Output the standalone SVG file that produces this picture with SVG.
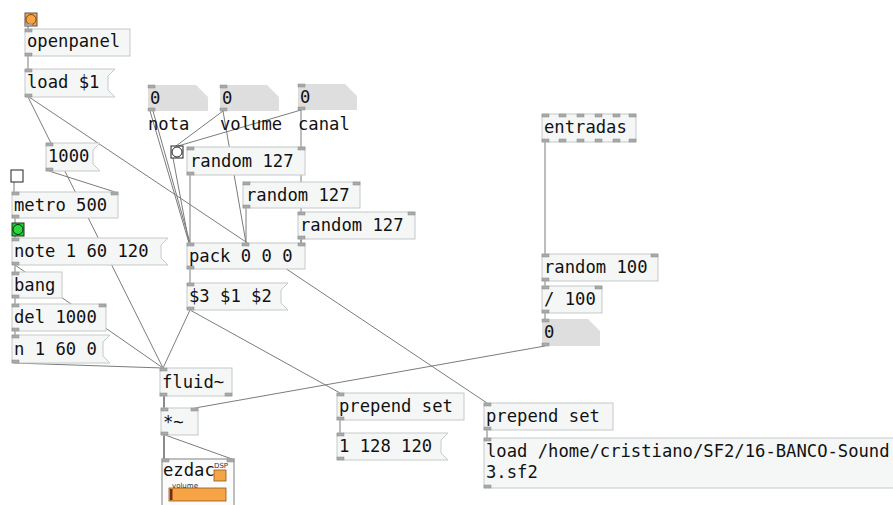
<svg xmlns="http://www.w3.org/2000/svg" width="893" height="505" viewBox="0 0 893 505">
<style>
text{font-family:"DejaVu Sans Mono","Liberation Mono",monospace;font-size:17.2px;fill:#111}
.obj{fill:#f5f7f7;stroke:#c6c9c9;stroke-width:1}
.msg{fill:#f5f7f7;stroke:#c6c9c9;stroke-width:1}
.num{fill:#dedede;stroke:none}
.io{fill:#a9abab;stroke:#8a8c8c;stroke-width:0.5}
.c{stroke:#7c7c7c;stroke-width:1;fill:none}
.s{stroke:#8a8a8a;stroke-width:2;fill:none}
.or{fill:#f6a445;stroke:#7a4a10;stroke-width:1}
.tiny{font-family:"DejaVu Sans","Liberation Sans",sans-serif;font-size:7px;fill:#333}
</style>
<rect width="893" height="505" fill="#ffffff"/>
<g id="connectors">
<line class="c" x1="28" y1="26" x2="28" y2="29"/>
<line class="c" x1="28" y1="56" x2="28" y2="69"/>
<line class="c" x1="28" y1="97" x2="163" y2="368"/>
<line class="c" x1="29" y1="97" x2="487" y2="403"/>
<line class="c" x1="150" y1="111" x2="189" y2="243"/>
<line class="c" x1="153" y1="111" x2="190" y2="243"/>
<line class="c" x1="223" y1="111" x2="176" y2="146"/>
<line class="c" x1="301" y1="110" x2="178" y2="146"/>
<line class="c" x1="223" y1="111" x2="246" y2="243"/>
<line class="c" x1="301" y1="110" x2="301" y2="243"/>
<line class="c" x1="173" y1="158" x2="189" y2="243"/>
<line class="c" x1="190" y1="175" x2="190" y2="243"/>
<line class="c" x1="246" y1="208" x2="246" y2="243"/>
<line class="c" x1="301" y1="239" x2="301" y2="243"/>
<line class="c" x1="190" y1="269" x2="190" y2="283"/>
<line class="c" x1="190" y1="310" x2="163" y2="368"/>
<line class="c" x1="190" y1="310" x2="340" y2="393"/>
<line class="c" x1="49" y1="171" x2="115" y2="192"/>
<line class="c" x1="14" y1="182" x2="14" y2="192"/>
<line class="c" x1="15" y1="218" x2="15" y2="223"/>
<line class="c" x1="15" y1="236" x2="15" y2="238"/>
<line class="c" x1="15" y1="265" x2="15" y2="272"/>
<line class="c" x1="15" y1="265" x2="163" y2="368"/>
<line class="c" x1="15" y1="298" x2="15" y2="304"/>
<line class="c" x1="15" y1="331" x2="15" y2="335"/>
<line class="c" x1="14" y1="363" x2="163" y2="368"/>
<line class="s" x1="164" y1="396" x2="164" y2="408"/>
<line class="c" x1="545" y1="346" x2="195" y2="408"/>
<line class="s" x1="164" y1="435" x2="164" y2="459"/>
<line class="c" x1="165" y1="435" x2="232" y2="459"/>
<line class="c" x1="340" y1="420" x2="340" y2="433"/>
<line class="c" x1="487" y1="430" x2="487" y2="438"/>
<line class="c" x1="545" y1="142" x2="545" y2="254"/>
<line class="c" x1="545" y1="281" x2="545" y2="286"/>
<line class="c" x1="545" y1="313" x2="545" y2="319"/>
</g>
<g id="bang-open">
<rect x="25" y="13" width="12" height="13" fill="#f6a445" stroke="#555" stroke-width="1"/>
<circle cx="31" cy="19.5" r="5" class="or"/>
<rect class="io" x="25" y="24" width="7" height="2"/>
</g>
<g id="openpanel">
<rect class="obj" x="25" y="29" width="105" height="27"/>
<rect class="io" x="25" y="29" width="7" height="3"/><rect class="io" x="25" y="53" width="7" height="3"/>
<text x="27" y="47">openpanel</text>
</g>
<g id="load1">
<polygon class="msg" points="25,69 115,69 108,76 108,90 115,97 25,97"/>
<rect class="io" x="25" y="69" width="7" height="3"/><rect class="io" x="25" y="94" width="7" height="3"/>
<text x="27" y="88">load $1</text>
</g>
<g id="num-nota">
<polygon class="num" points="148,85 196,85 208,97 208,111 148,111"/>
<rect class="io" x="148" y="85" width="7" height="3"/><rect class="io" x="148" y="108" width="7" height="3"/>
<text x="150" y="104">0</text>
<text x="148" y="130">nota</text>
</g>
<g id="num-volume">
<polygon class="num" points="220,85 267,85 279,97 279,111 220,111"/>
<rect class="io" x="220" y="85" width="7" height="3"/><rect class="io" x="220" y="108" width="7" height="3"/>
<text x="222" y="104">0</text>
<text x="220" y="130">volume</text>
</g>
<g id="num-canal">
<polygon class="num" points="298,84 345,84 357,96 357,110 298,110"/>
<rect class="io" x="298" y="84" width="7" height="3"/><rect class="io" x="298" y="107" width="7" height="3"/>
<text x="300" y="103">0</text>
<text x="298" y="130">canal</text>
</g>
<g id="bang-white">
<rect x="171" y="146" width="12" height="12" fill="#fff" stroke="#222" stroke-width="1"/>
<circle cx="177" cy="152" r="5" fill="#fff" stroke="#222" stroke-width="1"/>
</g>
<g id="random1">
<rect class="obj" x="187" y="147" width="118" height="28"/>
<rect class="io" x="187" y="147" width="7" height="3"/><rect class="io" x="298" y="147" width="7" height="3"/><rect class="io" x="187" y="172" width="7" height="3"/>
<text x="190" y="167">random 127</text>
</g>
<g id="random2">
<rect class="obj" x="243" y="182" width="117" height="26"/>
<rect class="io" x="243" y="182" width="7" height="3"/><rect class="io" x="353" y="182" width="7" height="3"/><rect class="io" x="243" y="205" width="7" height="3"/>
<text x="246" y="201">random 127</text>
</g>
<g id="random3">
<rect class="obj" x="298" y="212" width="117" height="27"/>
<rect class="io" x="298" y="212" width="7" height="3"/><rect class="io" x="408" y="212" width="7" height="3"/><rect class="io" x="298" y="236" width="7" height="3"/>
<text x="300" y="231">random 127</text>
</g>
<g id="pack">
<rect class="obj" x="187" y="243" width="118" height="26"/>
<rect class="io" x="187" y="243" width="7" height="3"/><rect class="io" x="242" y="243" width="7" height="3"/><rect class="io" x="298" y="243" width="7" height="3"/><rect class="io" x="187" y="266" width="7" height="3"/>
<text x="189" y="262">pack 0 0 0</text>
</g>
<g id="msg-dollar">
<polygon class="msg" points="187,283 288,283 281,290 281,303 288,310 187,310"/>
<rect class="io" x="187" y="283" width="7" height="3"/><rect class="io" x="187" y="307" width="7" height="3"/>
<text x="189" y="302">$3 $1 $2</text>
</g>
<g id="msg-1000">
<polygon class="msg" points="46,143 100,143 93,150 93,164 100,171 46,171"/>
<rect class="io" x="46" y="143" width="7" height="3"/><rect class="io" x="46" y="168" width="7" height="3"/>
<text x="48" y="162">1000</text>
</g>
<g id="toggle">
<rect x="11" y="170" width="12" height="12" fill="#fff" stroke="#222" stroke-width="1"/>
</g>
<g id="metro">
<rect class="obj" x="12" y="192" width="106" height="26"/>
<rect class="io" x="12" y="192" width="7" height="3"/><rect class="io" x="111" y="192" width="7" height="3"/><rect class="io" x="12" y="215" width="7" height="3"/>
<text x="14" y="211">metro 500</text>
</g>
<g id="bang-green">
<rect x="12" y="223" width="12" height="13" fill="#22c83a" stroke="#1a3a1a" stroke-width="1"/>
<circle cx="18" cy="229.5" r="5" fill="#28d83e" stroke="#0d2a10" stroke-width="1"/>
</g>
<g id="msg-note">
<polygon class="msg" points="12,238 168,238 161,245 161,258 168,265 12,265"/>
<rect class="io" x="12" y="238" width="7" height="3"/><rect class="io" x="12" y="262" width="7" height="3"/>
<text x="14" y="257">note 1 60 120</text>
</g>
<g id="bang-obj">
<rect class="obj" x="12" y="272" width="50" height="26"/>
<rect class="io" x="12" y="272" width="7" height="3"/><rect class="io" x="12" y="295" width="7" height="3"/>
<text x="14" y="291">bang</text>
</g>
<g id="del">
<rect class="obj" x="12" y="304" width="94" height="27"/>
<rect class="io" x="12" y="304" width="7" height="3"/><rect class="io" x="99" y="304" width="7" height="3"/><rect class="io" x="12" y="328" width="7" height="3"/>
<text x="14" y="323">del 1000</text>
</g>
<g id="msg-n">
<polygon class="msg" points="12,335 110,335 103,342 103,356 110,363 12,363"/>
<rect class="io" x="12" y="335" width="7" height="3"/><rect class="io" x="12" y="360" width="7" height="3"/>
<text x="14" y="355">n 1 60 0</text>
</g>
<g id="fluid">
<rect class="obj" x="160" y="368" width="72" height="28"/>
<rect class="io" x="160" y="368" width="7" height="3"/><rect class="io" x="160" y="393" width="7" height="3"/><rect class="io" x="225" y="393" width="7" height="3"/>
<text x="162" y="388">fluid~</text>
</g>
<g id="times">
<rect class="obj" x="161" y="408" width="37" height="27"/>
<rect class="io" x="161" y="408" width="7" height="3"/><rect class="io" x="191" y="408" width="7" height="3"/><rect class="io" x="161" y="432" width="7" height="3"/>
<text x="163" y="428">*~</text>
</g>
<g id="ezdac">
<rect x="162" y="459" width="72" height="48" fill="#fbfbfb" stroke="#aaa" stroke-width="1.5"/>
<rect class="io" x="162" y="459" width="7" height="3"/><rect class="io" x="227" y="459" width="7" height="3"/>
<text x="163" y="476">ezdac</text>
<rect x="214" y="470" width="12" height="11" fill="#f6a445" stroke="#8a5a20" stroke-width="0.8"/>
<text class="tiny" x="214" y="468">DSP</text>
<rect x="169" y="488" width="57" height="13" fill="#f6a445" stroke="#8a5a20" stroke-width="0.8"/>
<rect x="170" y="489" width="2.5" height="11" fill="#7a2a10"/>
<text class="tiny" x="172" y="487.5">volume</text>
</g>
<g id="prepend1">
<rect class="obj" x="337" y="393" width="127" height="27"/>
<rect class="io" x="337" y="393" width="7" height="3"/><rect class="io" x="337" y="417" width="7" height="3"/>
<text x="339" y="412">prepend set</text>
</g>
<g id="msg-128">
<polygon class="msg" points="337,433 448,433 441,440 441,453 448,460 337,460"/>
<rect class="io" x="337" y="433" width="7" height="3"/><rect class="io" x="337" y="457" width="7" height="3"/>
<text x="339" y="452">1 128 120</text>
</g>
<g id="prepend2">
<rect class="obj" x="484" y="403" width="129" height="27"/>
<rect class="io" x="484" y="403" width="7" height="3"/><rect class="io" x="484" y="427" width="7" height="3"/>
<text x="486" y="422">prepend set</text>
</g>
<g id="msg-load">
<rect class="msg" x="484" y="438" width="420" height="50"/>
<rect class="io" x="484" y="438" width="7" height="3"/><rect class="io" x="484" y="485" width="7" height="3"/>
<text x="486" y="457">load /home/cristiano/SF2/16-BANCO-Sound</text>
<text x="486" y="478">3.sf2</text>
</g>
<g id="entradas">
<rect class="obj" x="542" y="114" width="94" height="28"/>
<rect class="io" x="542" y="114" width="7" height="3"/><rect class="io" x="559" y="114" width="7" height="3"/><rect class="io" x="577" y="114" width="7" height="3"/><rect class="io" x="595" y="114" width="7" height="3"/><rect class="io" x="613" y="114" width="7" height="3"/><rect class="io" x="629" y="114" width="7" height="3"/>
<rect class="io" x="542" y="139" width="7" height="3"/><rect class="io" x="559" y="139" width="7" height="3"/><rect class="io" x="577" y="139" width="7" height="3"/><rect class="io" x="595" y="139" width="7" height="3"/><rect class="io" x="613" y="139" width="7" height="3"/><rect class="io" x="629" y="139" width="7" height="3"/>
<text x="544" y="133">entradas</text>
</g>
<g id="random100">
<rect class="obj" x="542" y="254" width="116" height="27"/>
<rect class="io" x="542" y="254" width="7" height="3"/><rect class="io" x="651" y="254" width="7" height="3"/><rect class="io" x="542" y="278" width="7" height="3"/>
<text x="544" y="273">random 100</text>
</g>
<g id="div100">
<rect class="obj" x="542" y="286" width="60" height="27"/>
<rect class="io" x="542" y="286" width="7" height="3"/><rect class="io" x="595" y="286" width="7" height="3"/><rect class="io" x="542" y="310" width="7" height="3"/>
<text x="544" y="305">/ 100</text>
</g>
<g id="num-zero">
<polygon class="num" points="542,319 588,319 600,331 600,346 542,346"/>
<rect class="io" x="542" y="319" width="7" height="3"/><rect class="io" x="542" y="343" width="7" height="3"/>
<text x="544" y="338">0</text>
</g>
</svg>
